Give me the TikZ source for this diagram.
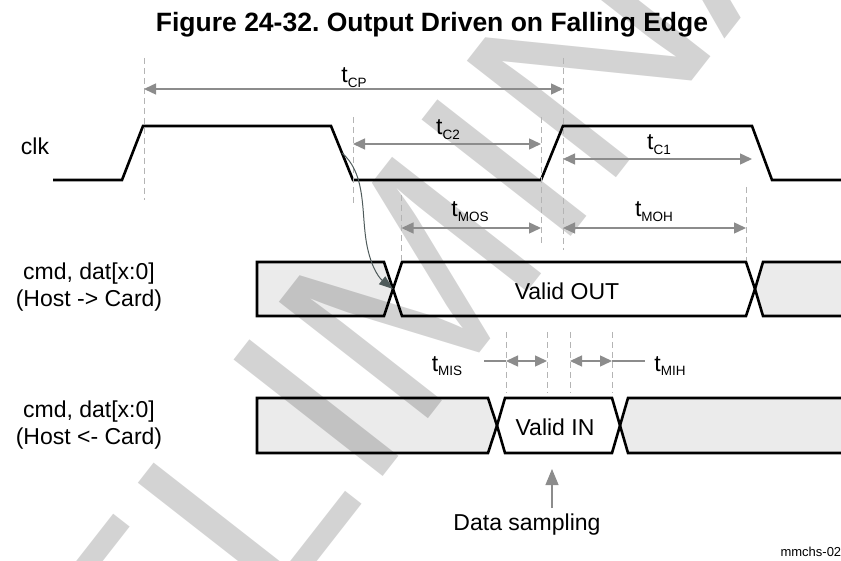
\documentclass[tikz,border=0pt]{standalone}
\usepackage{fontspec}
\setmainfont{Liberation Sans}
\usetikzlibrary{arrows.meta, positioning, calc}
\definecolor{dimgray}{HTML}{8C8C8C}
\definecolor{guidegray}{HTML}{B4B4B4}
\definecolor{wmgray}{HTML}{D3D3D3}
\definecolor{curvegray}{HTML}{4F5B5B}
\newcommand{\tlab}[1]{t\raisebox{-5pt}{\fontsize{13.5}{13.5}\selectfont #1}}
\frenchspacing

\begin{document}
\begin{tikzpicture}[x=1pt, y=-1pt,
    font=\fontsize{23}{27}\selectfont,
    wave/.style={draw=black, line width=2.6pt, line join=miter},
    busgray/.style={wave, fill=black, fill opacity=0.08},
    guide/.style={draw=guidegray, line width=0.9pt, dash pattern=on 6pt off 4pt},
    dimarrow/.style={draw=dimgray, line width=1.4pt, {Triangle[length=12pt,width=11pt]}-{Triangle[length=12pt,width=11pt]}},
    leader/.style={draw=dimgray, line width=1.1pt},
    tlabel/.style={anchor=base, inner sep=0pt}
]
\useasboundingbox (0,0) rectangle (841,561);

% ── Watermark ──
\node[anchor=base west, inner sep=0pt, rotate=52, text=wmgray,
      font=\fontsize{275}{275}\selectfont] (watermark) at (-75,1063) {PRELIMINARY};

% ── Title ──
\node[font=\fontsize{26.5}{30}\selectfont\bfseries, anchor=base] (title) at (432,32) {Figure 24-32. Output Driven on Falling Edge};

% ── Signal names ──
\node[anchor=base] (clklbl) at (35,155) {clk};
\node[align=center] (hclbl) at (89,287.5) {cmd, dat[x:0]\\(Host -> Card)};
\node[align=center] (chlbl) at (89,425.5) {cmd, dat[x:0]\\(Host <- Card)};

% ── Clock ──
\draw[wave] (53,180) -- (122,180) -- (143,126) -- (331,126) -- (353,180)
   -- (541,180) -- (563,126) -- (752,126) -- (772,180) -- (850,180);

% ── Host -> Card bus ──
\draw[busgray] (257,262) -- (384,262) -- (393,289) -- (384,316) -- (257,316) -- cycle;
\draw[wave] (402,262) -- (746,262) -- (755,289) -- (746,316) -- (402,316) -- (393,289) -- cycle;
\draw[busgray] (860,262) -- (763,262) -- (755,289) -- (763,316) -- (860,316);
\node[anchor=base] (validout) at (567,300) {Valid OUT};

% ── Host <- Card bus ──
\draw[busgray] (257,398) -- (488,398) -- (497,425.5) -- (488,453) -- (257,453) -- cycle;
\draw[wave] (505,398) -- (612,398) -- (620,425.5) -- (612,453) -- (505,453) -- (497,425.5) -- cycle;
\draw[busgray] (860,398) -- (628,398) -- (620,425.5) -- (628,453) -- (860,453);
\node[anchor=base] (validin) at (555,435) {Valid IN};

% ── Guide lines ──
\coordinate (g1a) at (144,58);  \coordinate (g1b) at (144,200);
\coordinate (g2a) at (353,117); \coordinate (g2b) at (353,203);
\coordinate (g3a) at (541,117); \coordinate (g3b) at (541,245);
\coordinate (g4a) at (563,58);  \coordinate (g4b) at (563,250);
\coordinate (g5a) at (401.5,195); \coordinate (g5b) at (401.5,260);
\coordinate (g6a) at (746,187); \coordinate (g6b) at (746,260);
\foreach \g in {1,...,6} \draw[guide] (g\g a) -- (g\g b);
\foreach \x [count=\i] in {506,547,570,612} {
  \coordinate (h\i a) at (\x,332); \coordinate (h\i b) at (\x,393);
  \draw[guide] (h\i a) -- (h\i b);
}

% ── Timing arrows ──
\coordinate (cpL) at (144,89);   \coordinate (cpR) at (563,89);
\coordinate (c2L) at (353,144);  \coordinate (c2R) at (541,144);
\coordinate (c1L) at (563,159);  \coordinate (c1R) at (752,159);
\coordinate (mosL) at (401.5,228); \coordinate (mosR) at (541,228);
\coordinate (mohL) at (563,228); \coordinate (mohR) at (746,228);
\draw[dimarrow] (cpL) -- (cpR);
\draw[dimarrow] (c2L) -- (c2R);
\draw[dimarrow] (c1L) -- (c1R);
\draw[dimarrow] (mosL) -- (mosR);
\draw[dimarrow] (mohL) -- (mohR);
\node[tlabel] (tcp) at (354,83) {\tlab{CP}};
\node[tlabel] (tc2) at (448,135) {\tlab{C2}};
\node[tlabel] (tc1) at (659,150) {\tlab{C1}};
\node[tlabel] (tmos) at (470,217) {\tlab{MOS}};
\node[tlabel] (tmoh) at (654,217) {\tlab{MOH}};

\coordinate (misT) at (484,361); \coordinate (misL) at (506,361); \coordinate (misR) at (547,361);
\coordinate (mihL) at (570,361); \coordinate (mihR) at (612,361); \coordinate (mihT) at (645,361);
\draw[leader] (misT) -- (misL);
\draw[dimarrow] (misL) -- (misR);
\draw[dimarrow] (mihL) -- (mihR);
\draw[leader] (mihR) -- (mihT);
\node[tlabel] (tmis) at (447,371) {\tlab{MIS}};
\node[tlabel] (tmih) at (670,371) {\tlab{MIH}};

% ── Drive edge to output transition ──
\coordinate (fallmid) at (342,153);
\coordinate (xout) at (393,289);
\draw[curvegray, line width=1pt, -{Triangle[length=14pt,width=10pt]}]
   (fallmid) .. controls (364,172) and (362,205) .. (365,232)
   .. controls (368,262) and (378,277) .. (xout);

% ── Data sampling ──
\node[anchor=base] (samplbl) at (527,530) {Data sampling};
\coordinate (samptip) at (552,469);
\draw[draw=dimgray, line width=1.1pt, -{Triangle[length=16pt,width=13pt]}] (552,508) -- (samptip);

\node[anchor=base west, font=\fontsize{13}{13}\selectfont] (figid) at (777,556) {mmchs-024};
\end{tikzpicture}
\end{document}
